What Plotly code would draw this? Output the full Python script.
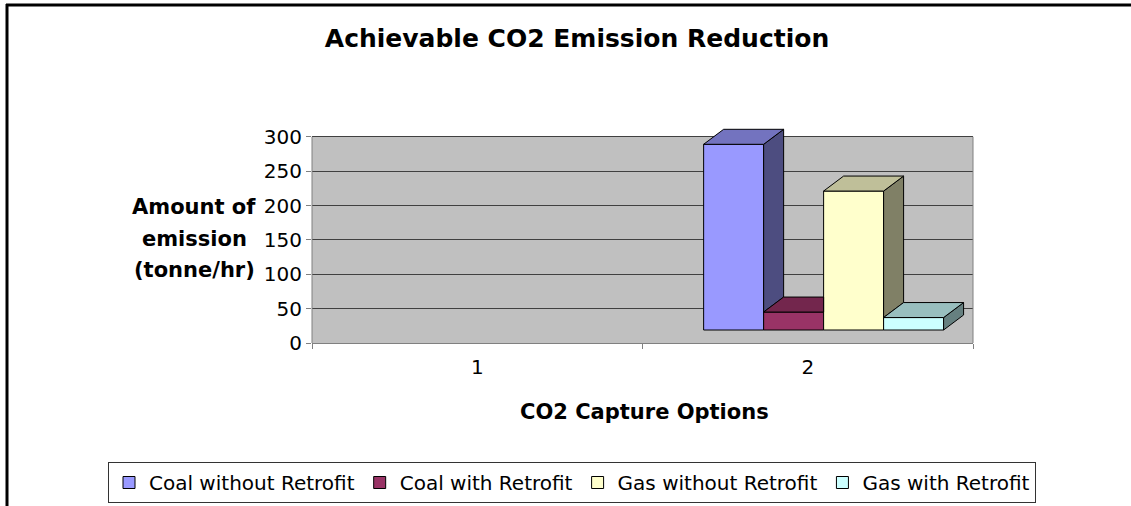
import plotly.graph_objects as go

# ---------------- data ----------------
CATEGORIES = ["1", "2"]
SERIES = ["Coal without Retrofit", "Coal with Retrofit", "Gas without Retrofit", "Gas with Retrofit"]
VALUES_CAT1 = [None, None, None, None]
VALUES_CAT2 = [289, 45, 221, 37]
Y_TICKS = [0, 50, 100, 150, 200, 250, 300]

TITLE = "Achievable CO2 Emission Reduction"
Y_TITLE_LINES = ["Amount of", "emission", "(tonne/hr)"]
X_TITLE = "CO2 Capture Options"

# ---------------- style ----------------
FRONT = ["#9999FF", "#993366", "#FFFFCC", "#CCFFFF"]
TOP = ["#7373BF", "#73264D", "#BFBF99", "#99BFBF"]
SIDE = ["#4D4D80", "#4D1A33", "#808066", "#668080"]
FONT = "DejaVu Sans"

W, H = 1131, 506
ML, MR, MT, MB = 312, 158, 123, 163
PW, PH = W - ML - MR, H - MT - MB
YMAX = 320.0
PX_PER_UNIT = PH / YMAX
CAT_PX = PW / len(CATEGORIES)

BAR_W = 0.1815          # category units
FIRST_OFF = -0.315
DX = 20 / CAT_PX        # 3D depth, category units
DY = 15 / PX_PER_UNIT   # 3D depth, value units
FLOOR = 13 / PX_PER_UNIT  # lift of the front face by the 3D projection


def px_x(px):
    return (px - ML) / PW


def px_y(py):
    return (H - MB - py) / PH


fig = go.Figure()
shapes = []

# gray back wall
shapes.append(dict(type="rect", xref="x domain", yref="y", x0=0, x1=1, y0=0, y1=Y_TICKS[-1],
                   fillcolor="#C0C0C0", line=dict(width=0), layer="below"))
# vertical axis line and right wall edge
shapes.append(dict(type="line", xref="x domain", yref="y", x0=0, x1=0, y0=0, y1=Y_TICKS[-1],
                   line=dict(color="#808080", width=1)))
shapes.append(dict(type="line", xref="x domain", yref="y", x0=1, x1=1, y0=0, y1=Y_TICKS[-1],
                   line=dict(color="#808080", width=1)))

all_vals = [[VALUES_CAT1[i], VALUES_CAT2[i]] for i in range(len(SERIES))]

for i, name in enumerate(SERIES):
    vals = all_vals[i]
    off = FIRST_OFF + i * BAR_W
    fig.add_trace(go.Bar(
        name=name, x=CATEGORIES,
        y=[None if v is None else v - FLOOR for v in vals],
        base=FLOOR, width=BAR_W, offset=off,
        marker=dict(color=FRONT[i], line=dict(color="black", width=1)),
    ))

# 3D top and side faces (only the visible parts, since they are drawn above the bars)
for c in range(len(CATEGORIES)):
    for i in range(len(SERIES)):
        v = all_vals[i][c]
        if v is None:
            continue
        x0 = c + FIRST_OFF + i * BAR_W
        x1 = x0 + BAR_W
        nxt = all_vals[i + 1][c] if i + 1 < len(SERIES) else None
        low = FLOOR if nxt is None else nxt
        if low < v:
            side = (f"M {x1},{low} L {x1},{v} L {x1 + DX},{v + DY} "
                    f"L {x1 + DX},{low + DY} Z")
            shapes.append(dict(type="path", xref="x", yref="y", path=side, fillcolor=SIDE[i],
                               line=dict(color="black", width=1), layer="above"))
        if nxt is not None and nxt >= v + DY:
            top = (f"M {x0},{v} L {x1},{v} L {x1},{v + DY} L {x0 + DX},{v + DY} Z")
        else:
            top = (f"M {x0},{v} L {x1},{v} L {x1 + DX},{v + DY} "
                   f"L {x0 + DX},{v + DY} Z")
        shapes.append(dict(type="path", xref="x", yref="y", path=top, fillcolor=TOP[i],
                           line=dict(color="black", width=1), layer="above"))

# outer chart border (top and left)
shapes.append(dict(type="line", xref="paper", yref="paper", x0=px_x(6), x1=px_x(W + 5),
                   y0=px_y(5), y1=px_y(5), line=dict(color="black", width=3)))
shapes.append(dict(type="line", xref="paper", yref="paper", x0=px_x(7), x1=px_x(7),
                   y0=px_y(4), y1=px_y(H + 5), line=dict(color="black", width=3)))

annotations = []
for k, line in enumerate(Y_TITLE_LINES):
    annotations.append(dict(text=f"<b>{line}</b>", xref="paper", yref="paper",
                            x=px_x(194), y=px_y(207 + 31.5 * k), xanchor="center", yanchor="middle",
                            showarrow=False, font=dict(family=FONT, size=21, color="black")))
annotations.append(dict(text=f"<b>{X_TITLE}</b>", xref="paper", yref="paper",
                        x=px_x(644), y=px_y(412), xanchor="center", yanchor="middle",
                        showarrow=False, font=dict(family=FONT, size=21, color="black")))

fig.update_layout(
    width=W, height=H,
    margin=dict(l=ML, r=MR, t=MT, b=MB, pad=0, autoexpand=False),
    paper_bgcolor="white", plot_bgcolor="white",
    barmode="overlay",
    font=dict(family=FONT, size=20, color="black"),
    title=dict(text=f"<b>{TITLE}</b>", x=577 / W, xref="container", xanchor="center",
               y=1 - 38 / H, yref="container", yanchor="middle",
               font=dict(family=FONT, size=25, color="black")),
    xaxis=dict(type="category", categoryorder="array", categoryarray=CATEGORIES,
               range=[-0.5, len(CATEGORIES) - 0.5], tickson="boundaries",
               ticks="outside", ticklen=5, tickcolor="#808080",
               showline=True, linecolor="#808080", linewidth=1,
               showgrid=False, zeroline=False, ticklabelstandoff=6,
               tickfont=dict(family=FONT, size=20, color="black")),
    yaxis=dict(range=[0, YMAX], tickvals=Y_TICKS, ticks="outside", ticklen=5,
               tickcolor="#808080", showline=False, showgrid=True,
               gridcolor="#404040", gridwidth=1, zeroline=False,
               tickfont=dict(family=FONT, size=20, color="black")),
    legend=dict(orientation="h", xref="paper", yref="paper",
                x=px_x(108), xanchor="left", y=px_y(462), yanchor="top",
                bgcolor="white", bordercolor="#333333", borderwidth=1,
                font=dict(family=FONT, size=20, color="black"), itemwidth=30,
                traceorder="normal"),
    shapes=shapes,
    annotations=annotations,
    showlegend=True,
)

fig.write_html("out.html", config={"displayModeBar": False},
               post_script="document.body.style.margin='0';")
